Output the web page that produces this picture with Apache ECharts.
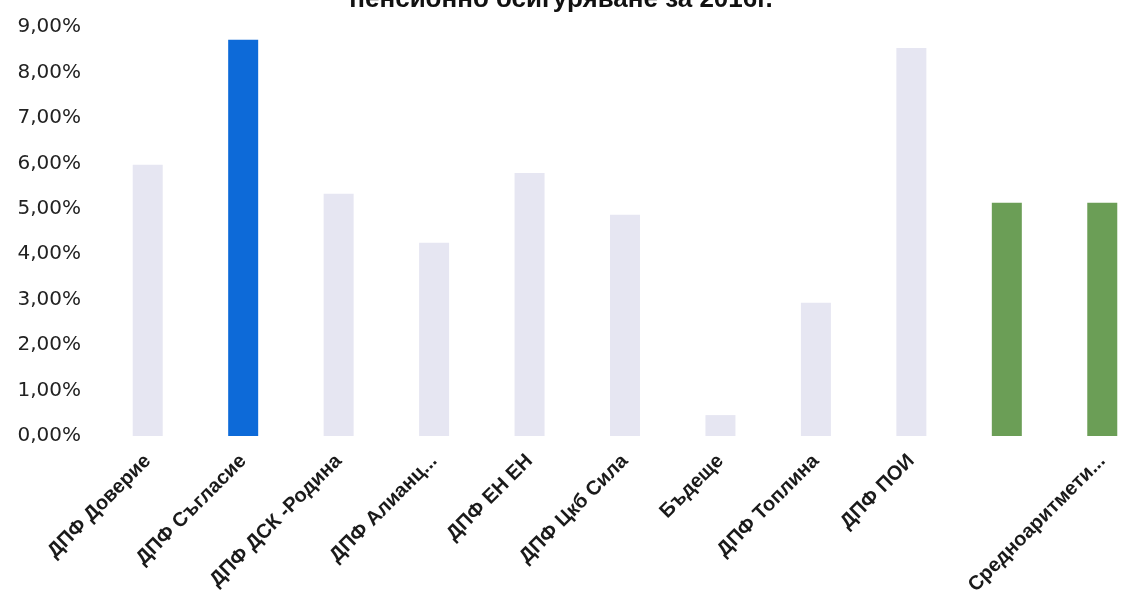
<!DOCTYPE html>
<html>
<head>
<meta charset="utf-8">
<script src="https://cdn.jsdelivr.net/npm/echarts@6/dist/echarts.min.js"></script>
<style>
html,body{margin:0;padding:0;background:#fff;}
#chart{width:1122px;height:591px;}
</style>
</head>
<body>
<div id="chart"></div>
<script>
var titleText = 'пенсионно осигуряване за 2016г.';
var categories = ['ДПФ Доверие','ДПФ Съгласие','ДПФ ДСК -Родина','ДПФ Алианц...','ДПФ ЕН ЕН','ДПФ Цкб Сила','Бъдеще','ДПФ Топлина','ДПФ ПОИ','','Средноаритмети...'];
var values = [5.97, 8.72, 5.33, 4.25, 5.79, 4.87, 0.46, 2.93, 8.54, 5.13, 5.13];
var barColors = ['#e6e6f2','#0d6ad8','#e6e6f2','#e6e6f2','#e6e6f2','#e6e6f2','#e6e6f2','#e6e6f2','#e6e6f2','#6b9e56','#6b9e56'];
var yTicks = {min: 0, max: 9, interval: 1};

var chart = echarts.init(document.getElementById('chart'));
chart.setOption({
  animation: false,
  backgroundColor: '#ffffff',
  title: {
    text: titleText,
    left: 'center',
    top: -18,
    textStyle: {fontFamily: 'Liberation Sans', fontSize: 26, fontWeight: 'bold', color: '#111'}
  },
  grid: {left: 100, width: 1050, top: 27, bottom: 155, containLabel: false, outerBoundsMode: 'none'},
  xAxis: {
    type: 'category',
    data: categories,
    axisLine: {show: false},
    axisTick: {show: false},
    axisLabel: {
      interval: 0,
      rotate: 45,
      margin: 22,
      fontFamily: 'Liberation Sans',
      fontSize: 20,
      fontWeight: 'bold',
      color: '#1a1a1a'
    }
  },
  yAxis: {
    type: 'value',
    min: yTicks.min,
    max: yTicks.max,
    interval: yTicks.interval,
    axisLine: {show: false},
    axisTick: {show: false},
    splitLine: {show: false},
    axisLabel: {
      margin: 19,
      fontFamily: 'DejaVu Sans',
      fontSize: 20,
      color: '#222',
      formatter: function (v) { return v.toFixed(2).replace('.', ',') + '%'; }
    }
  },
  series: [{
    type: 'bar',
    barWidth: 30,
    data: values.map(function (v, i) { return {value: v, itemStyle: {color: barColors[i]}}; })
  }]
});
</script>
</body>
</html>
